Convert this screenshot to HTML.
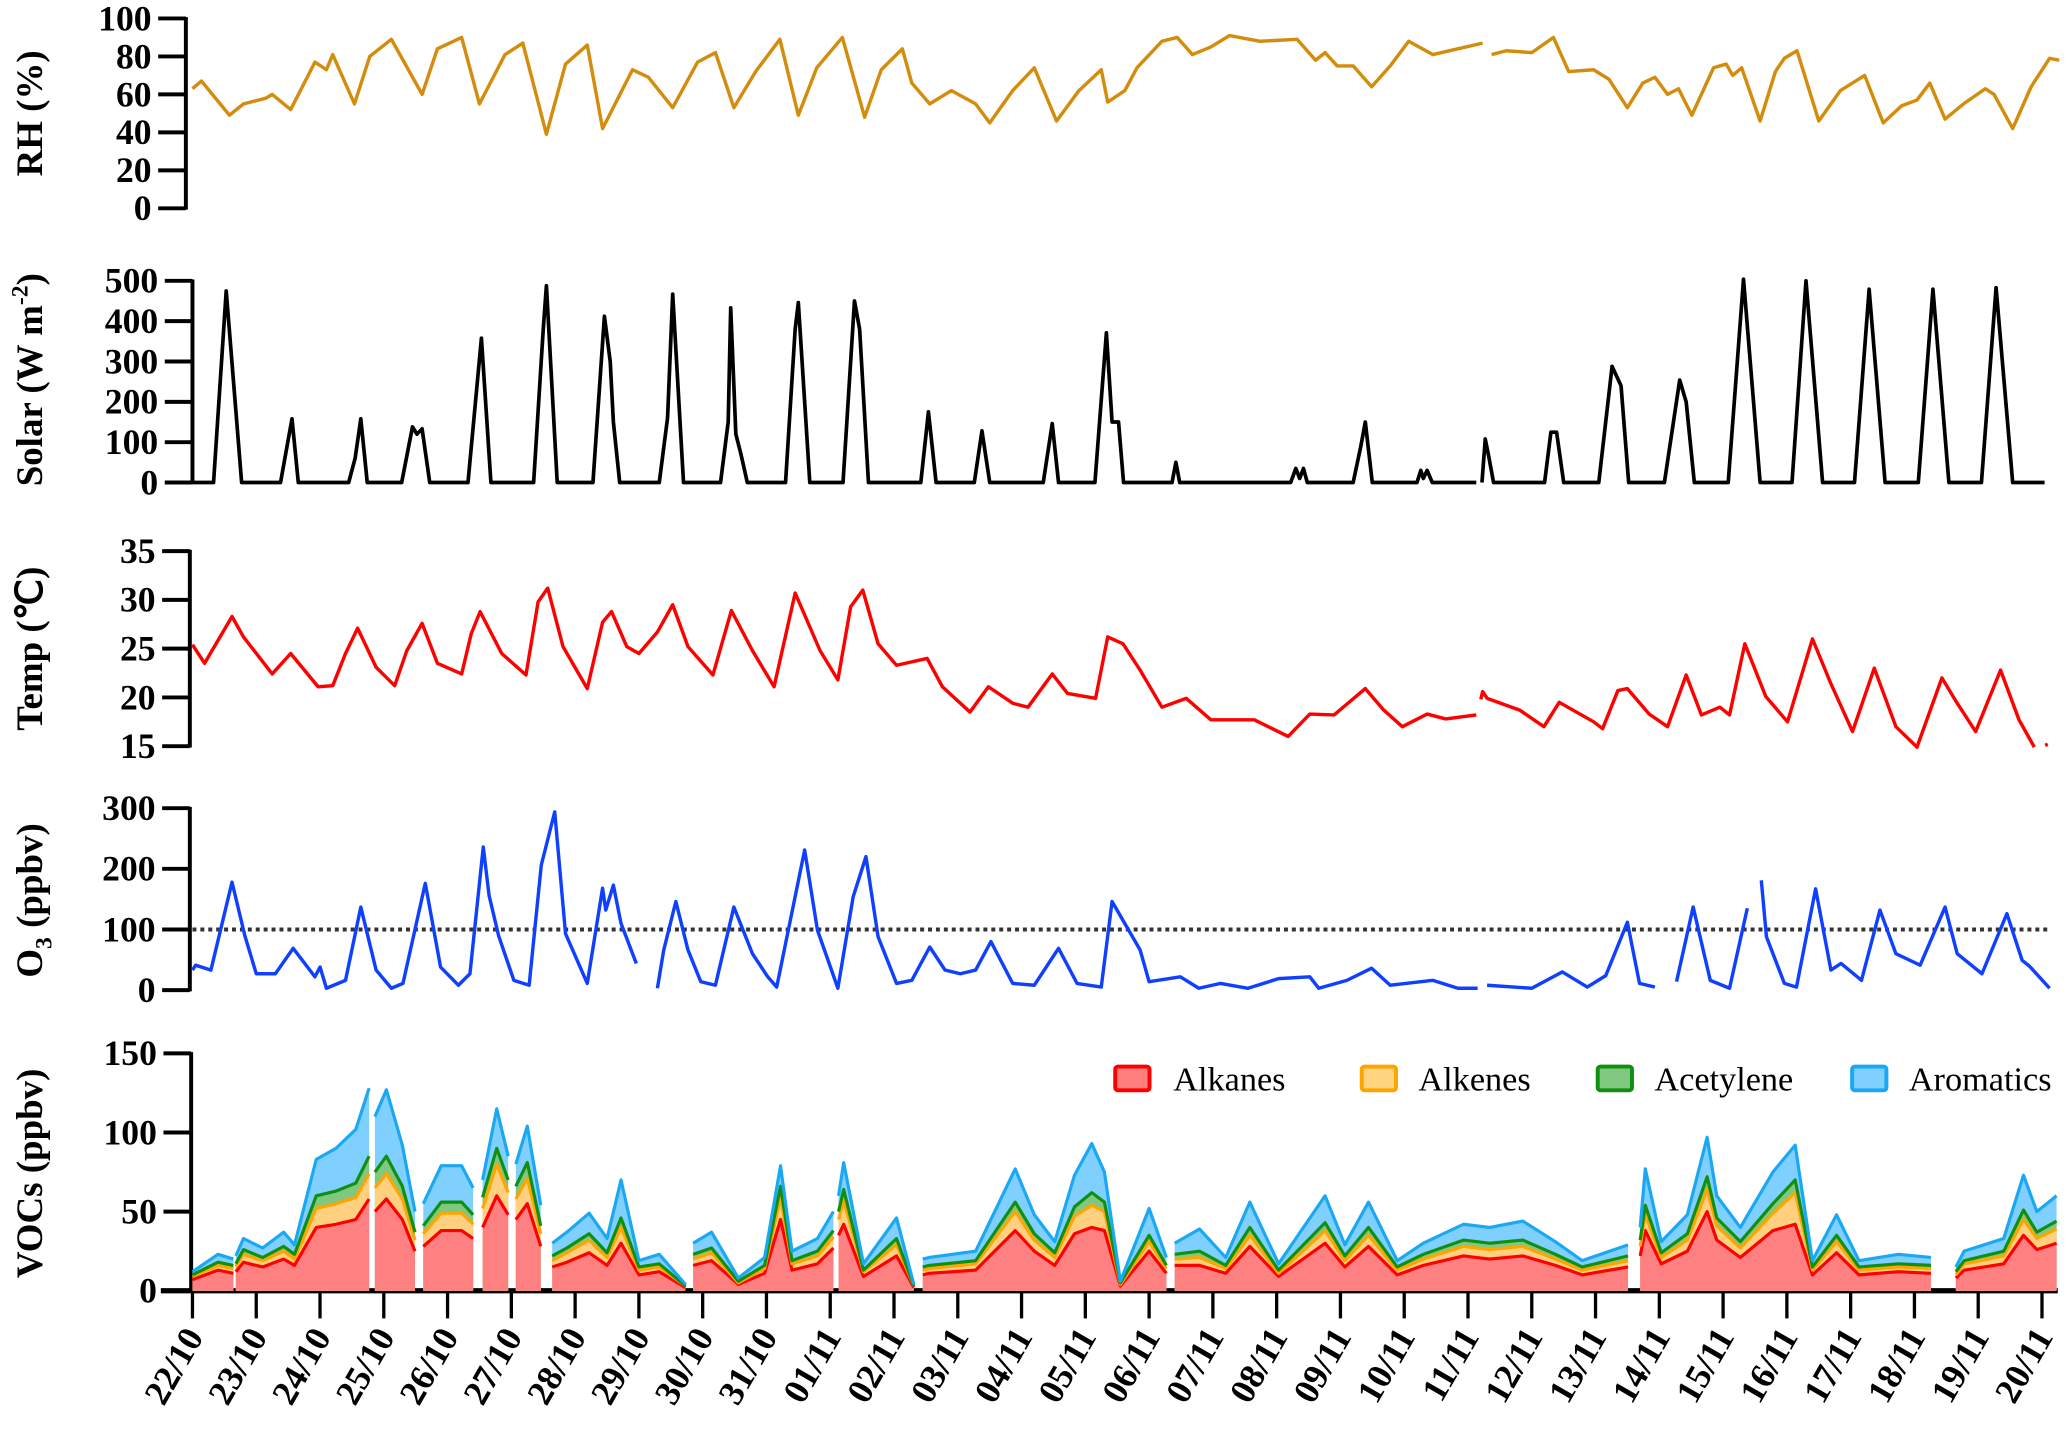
<!DOCTYPE html>
<html><head><meta charset="utf-8">
<style>
html,body{margin:0;padding:0;background:#fff;}
svg{display:block;}
text{font-family:"Liberation Serif","Times New Roman",serif;}
</style></head>
<body>
<svg id="chart" width="2067" height="1441" viewBox="0 0 1568 1093" preserveAspectRatio="none" xmlns="http://www.w3.org/2000/svg">
<g id="axes"></g>
<g id="marks"></g>
<g id="legend">
  <rect x="846" y="809" width="26" height="18" rx="2" fill="#ff7f7f" stroke="#ff0000" stroke-width="3"/>
  <text x="890" y="827" font-size="26">Alkanes</text>
  <rect x="1033" y="809" width="26" height="18" rx="2" fill="#ffd580" stroke="#ffa500" stroke-width="3"/>
  <text x="1076" y="827" font-size="26">Alkenes</text>
  <rect x="1212" y="809" width="26" height="18" rx="2" fill="#80c880" stroke="#109010" stroke-width="3"/>
  <text x="1255" y="827" font-size="26">Acetylene</text>
  <rect x="1405" y="809" width="26" height="18" rx="2" fill="#80d0ff" stroke="#1aa8f5" stroke-width="3"/>
  <text x="1448" y="827" font-size="26">Aromatics</text>
</g>
</svg>
<script>
// ---- data (time in days since 22/10 00:00) ----
const dayLabels = ["22/10","23/10","24/10","25/10","26/10","27/10","28/10","29/10","30/10","31/10","01/11","02/11","03/11","04/11","05/11","06/11","07/11","08/11","09/11","10/11","11/11","12/11","13/11","14/11","15/11","16/11","17/11","18/11","19/11","20/11"];
const rhTicks = [0,20,40,60,80,100];
const solarTicks = [0,100,200,300,400,500];
const tempTicks = [15,20,25,30,35];
const o3Ticks = [0,100,200,300];
const vocTicks = [0,50,100,150];

const rhT = [0,0.14,0.58,0.8,1.15,1.25,1.54,1.92,2.1,2.2,2.54,2.78,3.12,3.6,3.84,4.22,4.5,4.9,5.18,5.55,5.85,6.19,6.43,6.9,7.15,7.53,7.92,8.2,8.49,8.83,9.21,9.5,9.79,10.19,10.54,10.8,11.13,11.28,11.56,11.9,12.28,12.5,12.86,13.2,13.55,13.9,14.25,14.35,14.62,14.81,15.2,15.44,15.68,15.97,16.26,16.74,17.32,17.61,17.76,17.95,18.2,18.49,18.78,19.07,19.45,19.84,20.23,20.3,20.37,20.6,21.0,21.34,21.58,21.97,22.21,22.5,22.74,22.93,23.13,23.3,23.51,23.85,24.05,24.15,24.29,24.58,24.82,24.96,25.16,25.5,25.84,26.22,26.51,26.8,27.04,27.24,27.48,27.77,28.11,28.25,28.54,28.83,29.12,29.27];
const rhV = [63,67,49,55,58,60,52,77,73,81,55,80,89,60,84,90,55,81,87,39,76,86,42,73,69,53,77,82,53,72,89,49,74,90,48,73,84,66,55,62,55,45,62,74,46,62,73,56,62,74,88,90,81,85,91,88,89,78,82,75,75,64,75,88,81,84,87,null,81,83,82,90,72,73,68,53,66,69,60,63,49,74,76,70,74,46,72,79,83,46,62,70,45,54,57,66,47,55,63,60,42,64,79,78];

const solarT = [0,0.33,0.53,0.77,1.38,1.56,1.66,2.45,2.55,2.64,2.74,3.28,3.45,3.52,3.6,3.72,4.32,4.53,4.68,5.35,5.5,5.55,5.72,6.28,6.46,6.55,6.6,6.7,7.32,7.45,7.53,7.7,8.28,8.4,8.44,8.52,8.6,8.7,9.3,9.45,9.5,9.68,10.2,10.38,10.46,10.6,11.42,11.54,11.66,12.26,12.38,12.5,13.34,13.48,13.58,14.15,14.33,14.42,14.52,14.6,15.36,15.42,15.48,17.22,17.3,17.36,17.42,17.48,18.2,18.32,18.39,18.5,19.2,19.26,19.3,19.36,19.44,20.13,null,20.22,20.27,20.33,20.4,21.2,21.3,21.39,21.5,22.05,22.26,22.4,22.52,23.08,23.32,23.42,23.55,24.08,24.32,24.58,25.08,25.3,25.56,26.06,26.29,26.54,27.06,27.29,27.54,28.05,28.28,28.54,29.04];
const solarV = [0,0,475,0,0,158,0,0,60,158,0,0,138,120,133,0,0,358,0,0,380,488,0,0,412,300,150,0,0,160,467,0,0,150,433,120,70,0,0,380,446,0,0,450,380,0,0,175,0,0,128,0,0,146,0,0,371,150,150,0,0,50,0,0,35,10,35,0,0,90,150,0,0,30,10,30,0,0,null,0,108,60,0,0,125,125,0,0,288,240,0,0,254,200,0,0,504,0,0,500,0,0,479,0,0,479,0,0,483,0,0];

const tempT = [0,0.19,0.62,0.8,1.25,1.54,1.97,2.2,2.4,2.59,2.88,3.17,3.36,3.6,3.84,4.22,4.37,4.51,4.85,5.23,5.42,5.57,5.81,6.19,6.43,6.57,6.81,7.0,7.29,7.53,7.77,8.16,8.45,8.78,9.12,9.45,9.84,10.12,10.32,10.51,10.75,11.04,11.52,11.76,12.19,12.48,12.86,13.1,13.48,13.72,14.16,14.35,14.59,14.86,15.2,15.58,15.97,16.65,17.18,17.52,17.9,18.39,18.68,18.97,19.36,19.65,20.13,null,20.2,20.23,20.3,20.81,21.19,21.43,21.97,22.11,22.35,22.5,22.84,23.13,23.42,23.66,23.95,24.1,24.34,24.67,25.01,25.4,25.69,26.03,26.37,26.71,27.04,27.43,27.67,27.96,28.35,28.64,28.88,null,29.05,29.09];
const tempV = [25.4,23.5,28.3,26.2,22.4,24.5,21.1,21.2,24.5,27.1,23.1,21.2,24.8,27.6,23.5,22.4,26.5,28.8,24.5,22.3,29.8,31.2,25.2,20.9,27.7,28.8,25.2,24.5,26.7,29.5,25.2,22.3,28.9,24.8,21.1,30.7,24.8,21.8,29.3,31,25.5,23.3,24,21.1,18.5,21.1,19.4,19,22.4,20.4,19.9,26.2,25.5,22.8,19,19.9,17.7,17.7,16,18.3,18.2,20.9,18.7,17,18.3,17.8,18.2,null,19.8,20.6,19.9,18.7,17,19.5,17.5,16.8,20.7,20.9,18.3,17,22.3,18.2,19,18.2,25.5,20.1,17.5,26,21.4,16.5,23,17,14.9,22,19.4,16.5,22.8,17.7,14.9,null,15.1,15.2];

const o3T = [0,0.05,0.29,0.62,0.82,1.0,1.3,1.58,1.92,2.0,2.1,2.4,2.64,2.88,3.12,3.3,3.65,3.89,4.17,4.35,4.56,4.65,4.8,5.04,5.28,5.47,5.68,5.85,6.19,6.43,6.48,6.6,6.72,6.96,null,7.29,7.39,7.58,7.77,7.97,8.2,8.49,8.78,9.02,9.16,9.6,9.8,10.12,10.36,10.56,10.75,11.04,11.28,11.56,11.8,12.04,12.28,12.52,12.86,13.2,13.58,13.87,14.25,14.42,14.86,15.0,15.49,15.78,16.12,16.55,17.03,17.52,17.66,18.1,18.49,18.78,19.45,19.84,20.15,null,20.3,21.0,21.48,21.87,22.16,22.5,22.69,22.93,null,23.27,23.53,23.8,24.1,24.38,null,24.6,24.68,24.96,25.15,25.45,25.69,25.85,26.17,26.46,26.71,27.09,27.48,27.67,28.06,28.45,28.69,28.8,29.12];
const o3V = [33,41,33,178,90,27,27,69,22,38,3,16,137,33,3,11,176,38,8,27,236,156,90,16,8,206,294,93,11,168,132,173,110,44,null,3,66,146,66,14,8,137,60,22,5,231,99,3,154,220,88,11,16,71,33,27,33,80,11,8,69,11,5,146,66,14,22,3,11,3,19,22,3,16,36,8,16,3,3,null,8,3,30,5,24,112,11,5,null,14,137,16,3,135,null,181,88,11,5,167,33,44,16,132,60,41,137,60,27,126,49,40,3];

const vocT = [0,0.4,0.64,null,0.68,0.8,1.1,1.43,1.6,1.94,2.25,2.56,2.77,null,2.86,3.04,3.29,3.49,null,3.62,3.9,4.22,4.4,null,4.55,4.77,4.95,null,5.07,5.25,5.46,null,5.64,5.87,6.22,6.5,6.72,7.0,7.32,7.73,null,7.85,8.14,8.56,8.97,9.22,9.4,9.8,10.05,null,10.13,10.21,10.52,11.04,11.31,null,11.45,11.55,12.28,12.9,13.2,13.52,13.83,14.1,14.3,14.55,15.0,15.27,null,15.4,15.79,16.2,16.58,17.03,17.76,18.07,18.44,18.89,19.3,19.93,20.34,20.86,21.37,21.79,22.51,null,22.7,22.78,23.03,23.44,23.75,23.9,24.27,24.78,25.13,25.4,25.78,26.13,26.75,27.26,null,27.65,27.78,28.4,28.71,28.92,29.23];
const alkanes = [7,13,11,null,12,18,15,20,16,40,42,45,58,null,50,58,45,25,null,28,38,38,33,null,40,60,48,null,45,55,28,null,15,18,24,16,30,10,12,2,null,16,19,4,11,45,13,17,27,null,35,42,9,22,2,null,10,11,13,38,25,16,36,40,38,3,25,11,null,16,16,11,28,9,30,15,28,10,16,22,20,22,16,10,15,null,22,38,17,25,50,32,21,38,42,10,24,10,12,11,null,8,13,17,35,26,30];
const alkenes = [2,3,3,null,3,5,4,5,4,12,13,14,16,null,15,16,13,7,null,8,11,11,9,null,12,20,14,null,13,16,8,null,4,6,8,5,10,3,3,1,null,4,5,1,3,14,4,5,7,null,10,15,3,7,1,null,3,3,4,12,7,5,11,14,12,1,6,3,null,4,5,3,7,2,8,4,7,3,4,6,6,6,4,3,4,null,6,10,4,7,14,9,6,11,20,3,7,3,3,3,null,2,4,5,10,7,9];
const acetylene = [1,2,2,null,2,3,2,3,3,8,8,9,11,null,10,11,8,5,null,5,7,7,6,null,7,10,8,null,8,10,5,null,3,3,4,3,6,2,2,0,null,3,3,1,2,7,2,3,4,null,5,7,1,4,0,null,2,2,2,6,4,3,6,8,6,1,4,2,null,3,4,2,5,2,5,3,5,2,3,4,4,4,3,2,3,null,4,6,3,4,8,5,4,6,8,2,4,2,2,2,null,2,2,3,6,4,5];
const aromatics = [2,5,4,null,5,7,6,9,6,23,27,34,43,null,35,42,26,13,null,14,23,23,17,null,11,25,15,null,14,23,13,null,8,10,13,9,24,4,6,1,null,7,10,2,5,13,6,8,12,null,10,17,4,13,1,null,5,5,6,21,12,7,20,31,19,1,17,5,null,7,14,5,16,4,17,7,16,4,7,10,10,12,8,4,7,null,8,23,7,12,25,14,9,20,22,4,13,4,6,5,null,3,6,8,22,13,16];

// ---- layout ----
const X0 = 146, PXD = 48.38;
function xs(t){ return X0 + t*PXD; }
const NS = "http://www.w3.org/2000/svg";
const axesG = document.getElementById('axes');
const marksG = document.getElementById('marks');
function mk(tag, attrs, parent){
  const e = document.createElementNS(NS, tag);
  for (const k in attrs) e.setAttribute(k, attrs[k]);
  parent.appendChild(e);
  return e;
}
function scaleY(v0, v1, y0, y1){ return v => y0 + (v - v0) * (y1 - y0) / (v1 - v0); }

const panels = [
  {key:'rh', title:'RH (%)', ticks:rhTicks, min:0, max:100, yTop:14, yBot:158, ax:141, cy:86},
  {key:'solar', title:'Solar (W m', sup:'-2', ticks:solarTicks, min:0, max:500, yTop:213, yBot:366, ax:146, cy:288},
  {key:'temp', title:'Temp (\u2103)', ticks:tempTicks, min:15, max:35, yTop:418, yBot:566, ax:144, cy:492},
  {key:'o3', title:'O', sub:'3', titleRest:' (ppbv)', ticks:o3Ticks, min:0, max:300, yTop:613, yBot:751, ax:144, cy:683},
  {key:'voc', title:'VOCs (ppbv)', ticks:vocTicks, min:0, max:150, yTop:799, yBot:979, ax:145, cy:890}
];
const Y = {};
panels.forEach(p => {
  const ys = scaleY(p.min, p.max, p.yBot, p.yTop);
  Y[p.key] = ys;
  const line = mk('line', {x1:p.ax, x2:p.ax, y1:p.yTop-1, y2:p.yBot+1, stroke:'#000', 'stroke-width':3}, axesG);
  
  
  p.ticks.forEach(v => {
    const y = ys(v);
    const tk = mk('line', {x1:p.ax-21, x2:p.ax, y1:y, y2:y, stroke:'#000', 'stroke-width':3}, axesG);
    
    
    const tl = mk('text', {x:p.ax-26, y:y+9, 'font-size':27, 'font-weight':'bold', 'text-anchor':'end'}, axesG);
    tl.textContent = v;
    
    
  });
  const tt = mk('text', {x:0, y:0, 'font-size':28, 'font-weight':'bold', 'text-anchor':'middle', transform:'translate(32,' + p.cy + ') rotate(-90)'}, axesG);
  
  
  if (p.sup) {
    tt.appendChild(document.createTextNode(p.title));
    const s = mk('tspan', {'font-size':18, dy:-11}, tt); s.textContent = p.sup;
    const r = mk('tspan', {dy:11}, tt); r.textContent = ')';
  } else if (p.sub) {
    tt.appendChild(document.createTextNode(p.title));
    const s = mk('tspan', {'font-size':18, dy:7}, tt); s.textContent = p.sub;
    const r = mk('tspan', {dy:-7}, tt); r.textContent = p.titleRest;
  } else tt.textContent = p.title;
});

// x axis
const xa = mk('line', {x1:122, x2:1561, y1:979, y2:979, stroke:'#000', 'stroke-width':4}, axesG);


dayLabels.forEach((lab, i) => {
  const x = xs(i);
  const tk = mk('line', {x1:x, x2:x, y1:979, y2:1000, stroke:'#000', 'stroke-width':2.5}, axesG);
  
  
  const tl = mk('text', {x:0, y:0, 'font-size':27, 'font-weight':'bold', 'text-anchor':'end', transform:'translate(' + (x+9) + ',1014) rotate(-60)'}, axesG);
  tl.textContent = lab;
  
  
});

// O3 threshold
const thr = mk('line', {x1:146, x2:1556, y1:Y.o3(100), y2:Y.o3(100), stroke:'#333', 'stroke-width':3, 'stroke-dasharray':'3,3'}, marksG);



function segments(T, V){
  const segs = []; let cur = [];
  for (let i=0;i<T.length;i++){
    if (T[i]===null || V[i]===null){ if(cur.length) segs.push(cur); cur=[]; continue; }
    cur.push([T[i], V[i]]);
  }
  if (cur.length) segs.push(cur);
  return segs;
}
function drawLine(T, V, ys, color, name, w){
  segments(T, V).forEach(seg => {
    const d = seg.map((p,i)=>(i?'L':'M') + xs(p[0]).toFixed(1) + ' ' + ys(p[1]).toFixed(1)).join(' ');
    const path = mk('path', {d:d, fill:'none', stroke:color, 'stroke-width':w, 'stroke-linejoin':'round'}, marksG);
    
    
  });
}
drawLine(rhT, rhV, Y.rh, '#d48c0c', 'rh-line', 2.6);
drawLine(solarT, solarV, Y.solar, '#000', 'solar-line', 2.8);
drawLine(tempT, tempV, Y.temp, '#ff0000', 'temp-line', 2.6);
drawLine(o3T, o3V, Y.o3, '#1040ff', 'o3-line', 2.6);

// stacked VOCs
const layers = [
  {vals:alkanes, fill:'#ff8080', stroke:'#ff0000', name:'alkanes'},
  {vals:alkenes, fill:'#ffd080', stroke:'#ffa500', name:'alkenes'},
  {vals:acetylene, fill:'#80c880', stroke:'#109010', name:'acetylene'},
  {vals:aromatics, fill:'#80d0ff', stroke:'#1aa8f5', name:'aromatics'}
];
const cum = [];
let running = vocT.map(()=>0);
layers.forEach(L => {
  running = running.map((r,i)=> (r===null||L.vals[i]===null) ? null : r + L.vals[i]);
  cum.push(running.slice());
});
for (let k = layers.length-1; k >= 0; k--) {
  const L = layers[k];
  segments(vocT, cum[k]).forEach(seg => {
    let d = 'M' + xs(seg[0][0]).toFixed(1) + ' ' + Y.voc(0);
    seg.forEach(p => { d += ' L' + xs(p[0]).toFixed(1) + ' ' + Y.voc(p[1]).toFixed(1); });
    d += ' L' + xs(seg[seg.length-1][0]).toFixed(1) + ' ' + Y.voc(0) + ' Z';
    const a = mk('path', {d:d, fill:L.fill, stroke:'none'}, marksG);
    
    
  });
}
layers.forEach((L,k) => drawLine(vocT, cum[k], Y.voc, L.stroke, 'voc-line-' + L.name, 2.4));
</script>
</body></html>
